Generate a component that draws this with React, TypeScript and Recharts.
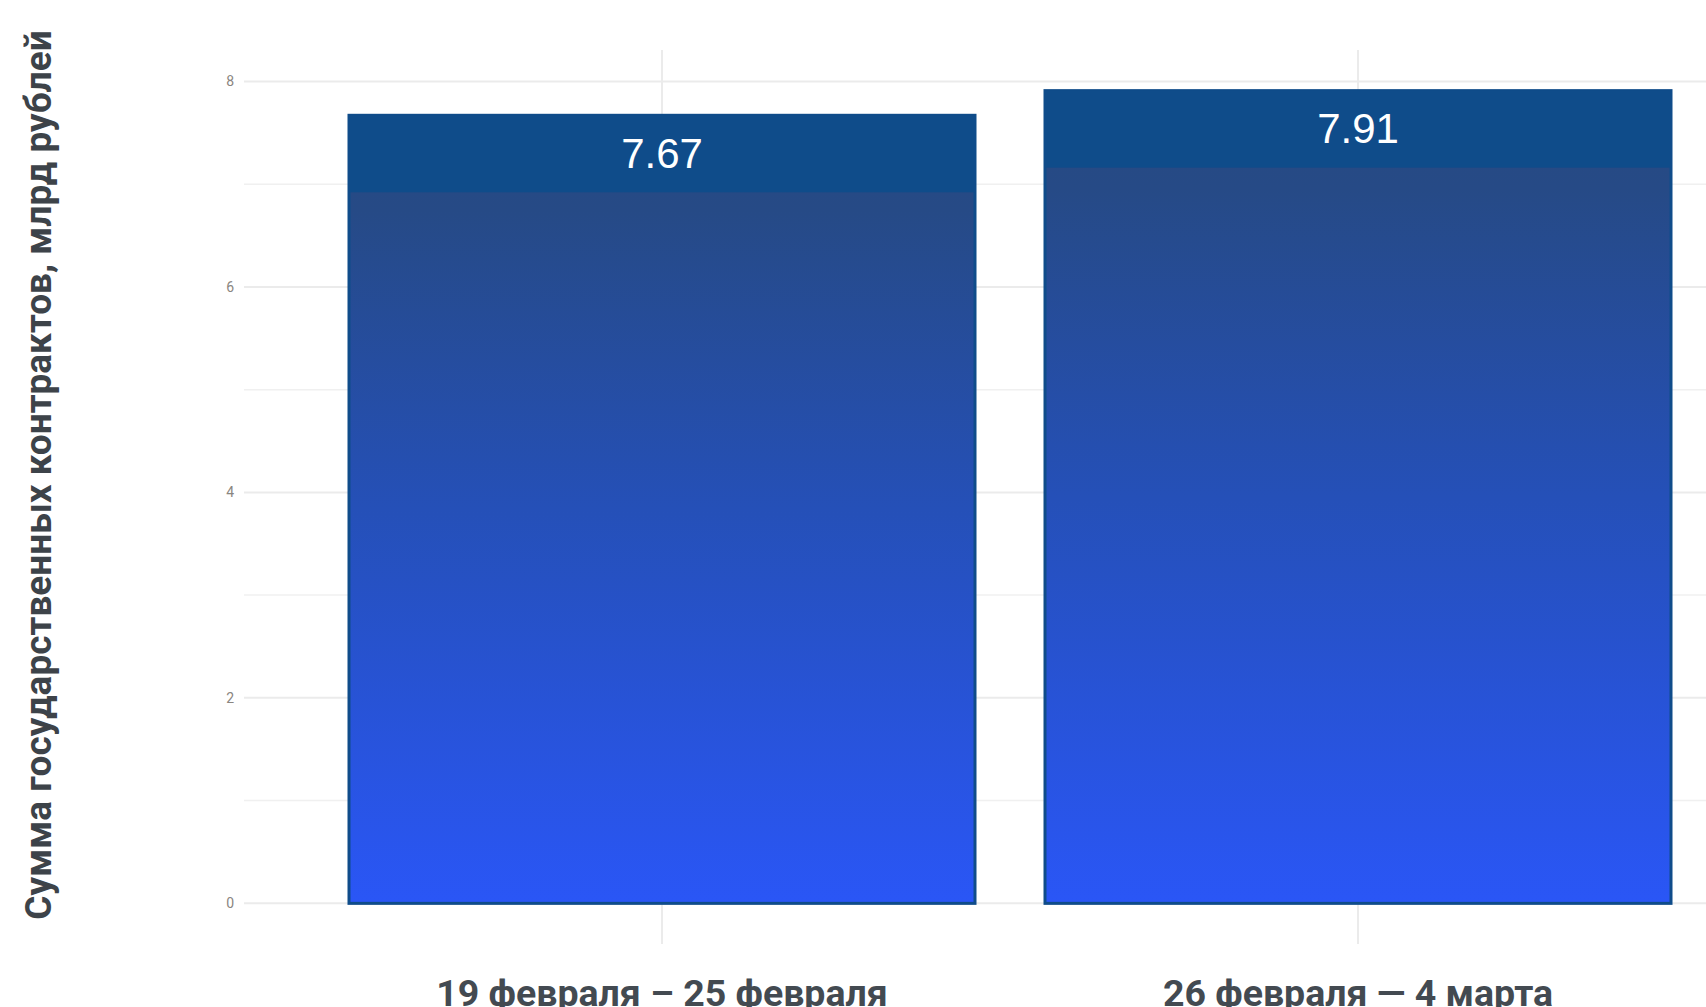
import React from 'react';
import { BarChart, Bar, XAxis, YAxis, CartesianGrid, LabelList } from 'recharts';

const categories: string[] = ['19 февраля – 25 февраля', '26 февраля — 4 марта'];
const values: number[] = [7.67, 7.91];
const majorTicks: number[] = [0, 2, 4, 6, 8];
const minorTicks: number[] = [1, 3, 5, 7];
const yDomain: [number, number] = [-0.3955, 8.3055];
const yTitle = 'Сумма государственных контрактов, млрд рублей';

const data = categories.map((c, i) => ({ period: c, value: values[i] }));

const W = 1706;
const H = 1007;
const BAND_PX = 77;

const toPixels = (vals: number[]) => (args: any) => {
  const { yAxis, offset } = args || {};
  const scale = yAxis && typeof yAxis.scale === 'function' ? yAxis.scale : null;
  return vals.map((v) =>
    scale
      ? scale(v)
      : offset.top + ((yDomain[1] - v) / (yDomain[1] - yDomain[0])) * offset.height
  );
};

const BarShape = (props: any) => {
  const { x, y, width, height } = props;
  const band = Math.min(BAND_PX, height);
  return (
    <g>
      <rect x={x} y={y} width={width} height={height} fill="url(#barGrad)" stroke="#0f4c8a" strokeWidth={3} />
      <rect x={x} y={y} width={width} height={band} fill="#0f4c8a" />
    </g>
  );
};

const XTick = (props: any) => {
  const { x, y, payload } = props;
  return (
    <text
      x={x}
      y={y}
      dy={60}
      textAnchor="middle"
      fontFamily="Roboto, 'Noto Sans', sans-serif"
      fontWeight={700}
      fontSize={37.5}
      fill="#434a51"
    >
      {payload.value}
    </text>
  );
};

export default function App() {
  return (
    <div style={{ position: 'absolute', left: 0, top: 0, width: W, height: H, overflow: 'hidden', background: '#fff' }}>
      <BarChart
        width={W}
        height={H}
        data={data}
        margin={{ top: 50, right: 0, bottom: 0, left: 0 }}
        barSize={626}
      >
        <defs>
          <linearGradient id="barGrad" x1="0" y1="0" x2="0" y2="1">
            <stop offset="0%" stopColor="#274a80" />
            <stop offset="12%" stopColor="#264a86" />
            <stop offset="50%" stopColor="#2550b8" />
            <stop offset="100%" stopColor="#2a56f6" />
          </linearGradient>
        </defs>
        <CartesianGrid
          stroke="#f0f0f0"
          strokeWidth={1.5}
          vertical={false}
          horizontalCoordinatesGenerator={toPixels(minorTicks)}
        />
        <CartesianGrid
          stroke="#ebebeb"
          strokeWidth={2}
          syncWithTicks
          horizontalCoordinatesGenerator={toPixels(majorTicks)}
        />
        <XAxis
          dataKey="period"
          height={63}
          padding={{ left: 70, right: 0 }}
          axisLine={false}
          tickLine={false}
          tickSize={0}
          tick={<XTick />}
          interval={0}
        />
        <YAxis
          width={244}
          domain={yDomain}
          ticks={majorTicks}
          allowDataOverflow
          axisLine={false}
          tickLine={false}
          tickSize={0}
          tickMargin={10}
          tick={{ fontSize: 14, fill: '#8a8580', fontFamily: 'Roboto, sans-serif' }}
          label={{
            value: yTitle,
            angle: -90,
            position: 'insideLeft',
            content: () => (
              <text
                x={0}
                y={0}
                transform="translate(51,475) rotate(-90)"
                textAnchor="middle"
                fontFamily="Roboto, 'Noto Sans', sans-serif"
                fontWeight={700}
                fontSize={37}
                fill="#3d4349"
              >
                {yTitle}
              </text>
            ),
          }}
        />
        <Bar dataKey="value" shape={<BarShape />} isAnimationActive={false}>
          <LabelList
            dataKey="value"
            position="insideTop"
            offset={23}
            fill="#ffffff"
            fontSize={42}
            fontFamily="'Liberation Sans', Arial, sans-serif"
          />
        </Bar>
      </BarChart>
    </div>
  );
}
